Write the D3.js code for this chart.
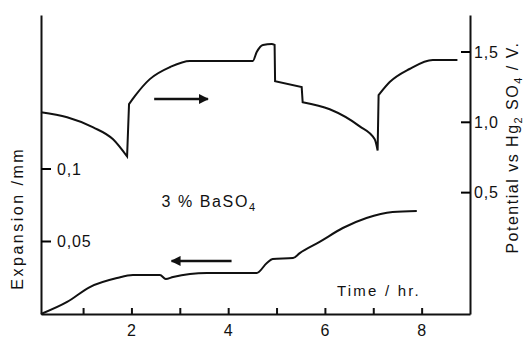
<!DOCTYPE html>
<html>
<head>
<meta charset="utf-8">
<script src="https://cdn.jsdelivr.net/npm/d3@7"></script>
<style>
  body { margin: 0; background: #fff; }
  text { font-family: "Liberation Sans", Arial, sans-serif; fill: #111; }
</style>
</head>
<body>
<div id="chart"></div>
<script>
// time in hr, potential in V (right axis), expansion in mm (left axis)
var potDrop1 = [[0.13, 1.071], [0.67, 1.036], [1.21, 0.964], [1.62, 0.879], [1.91, 0.757]];
var potRise1 = [[1.95, 1.129], [2.07, 1.186], [2.38, 1.307], [2.80, 1.393], [3.21, 1.436], [4.51, 1.436],
                [4.59, 1.50], [4.72, 1.55], [4.90, 1.557], [4.96, 1.55]];
var potStep = [[4.97, 1.293], [5.52, 1.25]];
var potDrop2 = [[5.54, 1.143], [6.10, 1.093], [6.72, 0.971], [7.03, 0.879], [7.09, 0.80]];
var potRise2 = [[7.11, 1.193], [7.34, 1.286], [7.75, 1.379], [8.23, 1.443], [8.74, 1.443]];

var expansion = [[0.13, 0], [0.67, 0.0083], [1.14, 0.0186], [1.70, 0.0248], [2.03, 0.0269], [2.59, 0.0269],
                 [2.71, 0.0241], [2.86, 0.0255], [3.56, 0.0283], [4.59, 0.0283], [4.80, 0.0352], [4.92, 0.0379],
                 [5.34, 0.0386], [5.48, 0.042], [5.89, 0.0497], [6.37, 0.0593], [6.86, 0.0662], [7.40, 0.0703],
                 [7.90, 0.071]];

var timeTicks = [1, 2, 3, 4, 5, 6, 7, 8];
var timeLabels = [2, 4, 6, 8];
var expTicks = [0.05, 0.1];
var potTicks = [0.5, 1.0, 1.5];

var svgWidth = 529;
var svgHeight = 340;
var margin = { top: 15, right: 59, bottom: 26, left: 41 };
var width = svgWidth - margin.left - margin.right;
var height = svgHeight - margin.top - margin.bottom;

var svg = d3.select("#chart").append("svg")
    .attr("width", svgWidth)
    .attr("height", svgHeight);

var g = svg.append("g")
    .attr("transform", `translate(${margin.left}, ${margin.top})`);

var x = d3.scaleLinear().domain([0.13, 9]).range([0, width]);
var yE = d3.scaleLinear().domain([0, 0.2062]).range([height, 0]);
var yV = d3.scaleLinear().domain([-0.363, 1.763]).range([height, 0]);

var comma = d => String(d === 1 ? "1.0" : d).replace(".", ",");

// axes
var bottom = g.append("g")
    .attr("transform", `translate(0, ${height})`)
    .call(d3.axisBottom(x).tickValues(timeTicks).tickSizeInner(-6).tickSizeOuter(0).tickPadding(11)
        .tickFormat(d => timeLabels.indexOf(d) >= 0 ? d : ""));

var left = g.append("g")
    .call(d3.axisRight(yE).tickValues(expTicks).tickSizeInner(0).tickSizeOuter(0).tickPadding(16)
        .tickFormat(comma));

var right = g.append("g")
    .attr("transform", `translate(${width}, 0)`)
    .call(d3.axisRight(yV).tickValues(potTicks).tickSizeInner(0).tickSizeOuter(0).tickPadding(4)
        .tickFormat(comma));

g.selectAll(".domain").attr("stroke", "#111").attr("stroke-width", 2);
g.selectAll(".tick line").attr("stroke", "#111").attr("stroke-width", 2);
g.selectAll(".tick text").attr("font-size", 16).attr("letter-spacing", 0.8).attr("fill", "#111");

// tick marks on the vertical axes
g.selectAll(".exp-tick").data(expTicks).enter().append("line")
    .attr("class", "exp-tick")
    .attr("x1", 0).attr("x2", 10)
    .attr("y1", d => yE(d)).attr("y2", d => yE(d))
    .attr("stroke", "#000").attr("stroke-width", 2);

g.selectAll(".pot-tick").data(potTicks).enter().append("line")
    .attr("class", "pot-tick")
    .attr("x1", width - 9).attr("x2", width)
    .attr("y1", d => yV(d)).attr("y2", d => yV(d))
    .attr("stroke", "#000").attr("stroke-width", 2);

// curves: smooth segments joined by vertical jumps
var linePot = d3.line().x(d => x(d[0])).y(d => yV(d[1])).curve(d3.curveMonotoneX);
var lineExp = d3.line().x(d => x(d[0])).y(d => yE(d[1])).curve(d3.curveMonotoneX);

var potPath = [potDrop1, potRise1, potStep, potDrop2, potRise2]
    .map((seg, i) => i === 0 ? linePot(seg) : "L" + linePot(seg).slice(1))
    .join("");

g.append("path")
    .attr("d", potPath)
    .attr("fill", "none")
    .attr("stroke", "#111")
    .attr("stroke-width", 2);

g.append("path")
    .attr("d", lineExp(expansion))
    .attr("fill", "none")
    .attr("stroke", "#111")
    .attr("stroke-width", 2);

// arrows
svg.append("defs").append("marker")
    .attr("id", "head")
    .attr("viewBox", "0 0 10 10")
    .attr("refX", 9).attr("refY", 5)
    .attr("markerWidth", 4).attr("markerHeight", 4)
    .attr("orient", "auto")
    .append("path").attr("d", "M0,0 L10,5 L0,10 z").attr("fill", "#111");

g.append("line")
    .attr("x1", x(2.47)).attr("x2", x(3.58))
    .attr("y1", yV(1.166)).attr("y2", yV(1.166))
    .attr("stroke", "#111").attr("stroke-width", 2.5)
    .attr("marker-end", "url(#head)");

g.append("line")
    .attr("x1", x(4.07)).attr("x2", x(2.83))
    .attr("y1", yE(0.0366)).attr("y2", yE(0.0366))
    .attr("stroke", "#111").attr("stroke-width", 2.5)
    .attr("marker-end", "url(#head)");

// labels
var note = g.append("text")
    .attr("x", x(2.62)).attr("y", yE(0.074))
    .attr("font-size", 16).attr("letter-spacing", 1.6);
note.append("tspan").text("3 % BaSO");
note.append("tspan").attr("font-size", 11).attr("dy", 4).text("4");

g.append("text")
    .attr("x", x(6.25)).attr("y", height - 18)
    .attr("font-size", 15).attr("letter-spacing", 2.2)
    .text("Time / hr.");

svg.append("text")
    .attr("transform", `translate(23, ${margin.top + yE(0.066)}) rotate(-90)`)
    .attr("text-anchor", "middle")
    .attr("font-size", 16).attr("letter-spacing", 2.5)
    .text("Expansion /mm");

var potLabel = svg.append("text")
    .attr("transform", `translate(518, ${margin.top + yV(0.82)}) rotate(-90)`)
    .attr("text-anchor", "middle")
    .attr("font-size", 16).attr("letter-spacing", 1.5);
potLabel.append("tspan").text("Potential vs Hg");
potLabel.append("tspan").attr("font-size", 11).attr("dy", 4).text("2");
potLabel.append("tspan").attr("dy", -4).text(" SO");
potLabel.append("tspan").attr("font-size", 11).attr("dy", 4).text("4");
potLabel.append("tspan").attr("dy", -4).text(" / V.");
</script>
</body>
</html>
